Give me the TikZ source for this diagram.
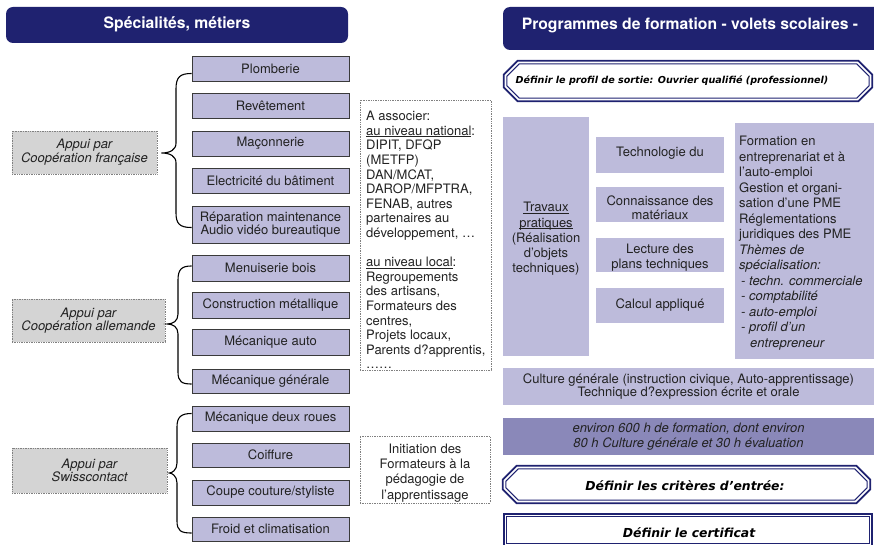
\documentclass[tikz,border=0pt]{standalone}
\usepackage{fontspec}
\setmainfont{TeX Gyre Heros}
\newfontfamily\comicf{DejaVu Sans}
\usetikzlibrary{calc}
\definecolor{navy}{HTML}{1F2270}
\definecolor{lav}{HTML}{BDBBDB}
\definecolor{lavdark}{HTML}{8A88B9}
\definecolor{appgray}{HTML}{D4D4D4}
\definecolor{metborder}{HTML}{3A3A3A}
\definecolor{dotgray}{HTML}{808080}
\definecolor{txt}{HTML}{222222}
\newcommand\ulin[1]{\underline{\raisebox{0pt}[\height][0pt]{#1}}}
\begin{document}
\begin{tikzpicture}[x=1pt,y=-1pt,
  header/.style={fill=navy, rounded corners=7pt, inner sep=0},
  htext/.style={text=white, font=\bfseries\fontsize{15.7}{18}\selectfont, inner sep=0},
  metier/.style={draw=metborder, line width=0.9pt, fill=lav, minimum width=157pt, inner sep=0, align=center, text=txt, font=\fontsize{13}{13.5}\selectfont},
  appui/.style={draw=dotgray, densely dotted, line width=0.7pt, fill=appgray, inner sep=0, align=center, text=txt, font=\itshape\fontsize{13}{13.5}\selectfont},
  brace/.style={draw=black, line width=1.1pt},
  notebox/.style={draw=dotgray, densely dotted, line width=0.7pt, inner sep=0},
  lavbox/.style={fill=lav, inner sep=0, align=center, text=txt, font=\fontsize{13}{15}\selectfont},
  body/.style={inner sep=0, text=txt, font=\fontsize{13}{14.6}\selectfont},
  octxt/.style={inner sep=0, text=black, font=\comicf\bfseries\itshape\fontsize{12.4}{14}\selectfont},
  outerline/.style={draw=navy, line width=1.8pt},
  innerline/.style={draw=navy, line width=1.0pt},
  octo/.style n args={3}{insert path={
    ($(#1.north west)+(#2+#3,#2)$) -- ($(#1.north east)+(-#2-#3,#2)$) --
    ($(#1.north east)+(-#2,#2+#3)$) -- ($(#1.south east)+(-#2,-#2-#3)$) --
    ($(#1.south east)+(-#2-#3,-#2)$) -- ($(#1.south west)+(#2+#3,-#2)$) --
    ($(#1.south west)+(#2,-#2-#3)$) -- ($(#1.north west)+(#2,#2+#3)$) -- cycle}},
  rectin/.style 2 args={insert path={
    ($(#1.north west)+(#2,#2)$) rectangle ($(#1.south east)+(-#2,-#2)$)}}
]
\useasboundingbox (0,0) rectangle (874,545);

% ---------- headers ----------
\node[header, minimum width=342pt, minimum height=36pt] (h1) at (177,25) {};
\node[htext] (h1t) at (177,24) {Spécialités, métiers};
\node[header, minimum width=382pt, minimum height=43pt] (h2) at (694,28.5) {};
\node[htext] (h2t) at (690,25) {Programmes de formation - volets scolaires -};

% ---------- metiers ----------
\node[metier, minimum height=25pt] (plomb) at (270.5,68.5) {Plomberie};
\node[metier, minimum height=25pt] (revet) at (270.5,105.5) {Revêtement};
\node[metier, minimum height=25pt] (macon) at (270.5,143.5) {Maçonnerie};
\node[metier, minimum height=25pt] (elec) at (270.5,180.5) {Electricité du bâtiment};
\node[metier, minimum height=37pt] (repar) at (270.5,224.5) {Réparation maintenance\\Audio vidéo bureautique};
\node[metier, minimum height=26pt] (menuis) at (270.5,268) {Menuiserie bois};
\node[metier, minimum height=26pt] (constr) at (270.5,305) {Construction métallique};
\node[metier, minimum height=26pt] (mecauto) at (270.5,342) {Mécanique auto};
\node[metier, minimum height=24pt] (mecgen) at (270.5,381) {Mécanique générale};
\node[metier, minimum height=25pt] (deuxr) at (270.5,418.5) {Mécanique deux roues};
\node[metier, minimum height=24pt] (coiff) at (270.5,455) {Coiffure};
\node[metier, minimum height=25pt] (coupe) at (270.5,492.5) {Coupe couture/styliste};
\node[metier, minimum height=24pt] (froid) at (270.5,529) {Froid et climatisation};

% ---------- appui ----------
\node[appui, minimum width=145pt, minimum height=43pt] (ap1) at (84.5,152.5) {Appui par\\Coopération française};
\node[appui, minimum width=153pt, minimum height=43pt] (ap2) at (88.5,320.5) {Appui par\\Coopération allemande};
\node[appui, minimum width=155pt, minimum height=45pt] (ap3) at (89.5,470.5) {Appui par\\Swisscontact};

% ---------- braces ----------
\coordinate (t1) at ($(ap1.east)+(4,0.5)$);
\coordinate (t2) at ($(ap2.east)+(2,3.5)$);
\coordinate (t3) at ($(ap3.east)+(2,2.5)$);
\draw[brace] ($(plomb.west)+(0,5)$) .. controls (180,73.5) and (176,77) .. (176,89)
  -- (176,143) .. controls (176,150) and (170,153) .. (t1)
  .. controls (170,153) and (176,156) .. (176,163)
  -- (176,213) .. controls (176,224) and (180,227.5) .. ($(repar.west)+(0,3)$);
\draw[brace] ($(menuis.west)+(0,-2)$) .. controls (182,266) and (178,269) .. (178,280)
  -- (178,314) .. controls (178,321) and (173,324) .. (t2)
  .. controls (173,324) and (178,327) .. (178,334)
  -- (178,372) .. controls (178,382) and (182,384) .. ($(mecgen.west)+(0,3)$);
\draw[brace] ($(deuxr.west)+(0,-5)$) .. controls (181,413.5) and (177,417) .. (177,427)
  -- (177,463) .. controls (177,470) and (172,473) .. (t3)
  .. controls (172,473) and (177,476) .. (177,483)
  -- (177,521) .. controls (177,531) and (181,533) .. ($(froid.west)+(0,4)$);

% ---------- note boxes ----------
\node[notebox, minimum width=131pt, minimum height=270pt] (assoc) at (425.5,235) {};
\node[body, anchor=north west, align=left] (assoctxt) at (366,111) {A associer:\\
\ulin{au niveau national}:\\
DIPIT, DFQP\\
(METFP)\\
DAN/MCAT,\\
DAROP/MFPTRA,\\
FENAB, autres\\
partenaires au\\
développement, …\\[14.6pt]
\ulin{au niveau local}:\\
Regroupements\\
des artisans,\\
Formateurs des\\
centres,\\
Projets locaux,\\
Parents d?apprentis,\\
……};
\node[notebox, minimum width=130pt, minimum height=67pt] (init) at (425,469.5) {};
\node[body, align=center, font=\fontsize{13}{15.2}\selectfont] (inittxt) at (425,473) {Initiation des\\Formateurs à la\\pédagogie de\\l’apprentissage};

% ---------- right column ----------
\node[inner sep=0, minimum width=370pt, minimum height=42pt] (profil) at (688,81) {};
\draw[outerline, octo={profil}{0.9}{14}];
\draw[innerline, octo={profil}{4}{12.5}];
\node[octxt, font=\comicf\bfseries\itshape\fontsize{9.6}{11}\selectfont] (profiltxt) at (672,81) {Définir le profil de sortie: Ouvrier qualifié (professionnel)};

\node[lavbox, minimum width=86pt, minimum height=239pt] (trav) at (546,236.5) {};
\node[lavbox, fill=none, font=\fontsize{13}{15.3}\selectfont] (travtxt) at (546,239)
  {\ulin{Travaux}\\\ulin{pratiques}\\(Réalisation\\d’objets\\techniques)};
\node[lavbox, minimum width=128pt, minimum height=36pt] (tech) at (660,155) {};
\node[lavbox, fill=none] (techtxt) at (660,153) {Technologie du};
\node[lavbox, minimum width=128pt, minimum height=35pt] (conn) at (660,204.5) {};
\node[lavbox, fill=none, font=\fontsize{13}{14.3}\selectfont] (conntxt) at (660,208) {Connaissance des\\matériaux};
\node[lavbox, minimum width=128pt, minimum height=34pt] (lect) at (660,255) {};
\node[lavbox, fill=none, font=\fontsize{13}{15}\selectfont] (lecttxt) at (660,258) {Lecture des\\plans techniques};
\node[lavbox, minimum width=128pt, minimum height=35pt] (calcap) at (660,305.5) {Calcul appliqué};
\node[lavbox, minimum width=139pt, minimum height=236pt] (form) at (804.5,241) {};
\node[body, anchor=north west, align=left, font=\fontsize{13}{15.5}\selectfont] (formtxt) at (739,136) {Formation en\\
entreprenariat et à\\
l’auto-emploi\\
Gestion et organi-\\
sation d’une PME\\
Réglementations\\
juridiques des PME\\
\textit{Thèmes de}\\
\textit{spécialisation:}\\
\textit{\hspace{2pt}- techn. commerciale}\\
\textit{\hspace{2pt}- comptabilité}\\
\textit{\hspace{2pt}- auto-emploi}\\
\textit{\hspace{2pt}- profil d’un}\\
\textit{\hspace{11pt}entrepreneur}};

\node[lavbox, minimum width=371pt, minimum height=37pt, font=\fontsize{13}{13.5}\selectfont] (cult) at (688.5,386.5)
  {Culture générale (instruction civique, Auto-apprentissage)\\Technique d?expression écrite et orale};
\node[lavbox, fill=lavdark, minimum width=371pt, minimum height=37pt, font=\itshape\fontsize{13}{15}\selectfont] (env) at (688.5,436.5)
  {environ 600 h de formation, dont environ\\80 h Culture générale et 30 h évaluation};

\node[inner sep=0, minimum width=369pt, minimum height=39pt] (entree) at (686.5,484.5) {};
\draw[outerline, octo={entree}{0.9}{14}];
\draw[innerline, octo={entree}{4}{12.5}];
\node[octxt] (entreetxt) at (685,486) {Définir les critères d’entrée:};

\node[inner sep=0, minimum width=370pt, minimum height=34pt] (cert) at (688,530) {};
\draw[outerline, rectin={cert}{0.9}];
\draw[innerline, rectin={cert}{4}];
\node[octxt] (certtxt) at (689,533) {Définir le certificat};
\end{tikzpicture}
\end{document}
